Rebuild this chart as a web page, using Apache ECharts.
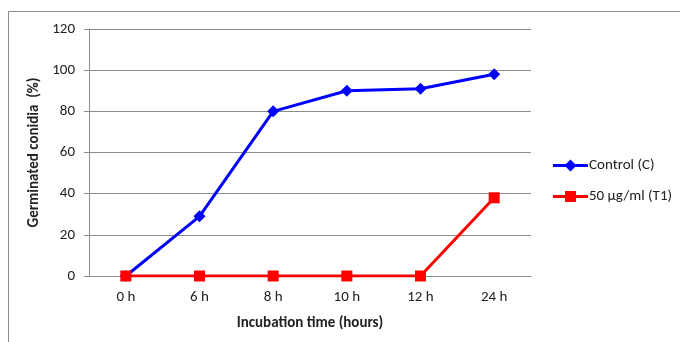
<!DOCTYPE html>
<html><head><meta charset="utf-8">
<script src="https://cdn.jsdelivr.net/npm/echarts@6/dist/echarts.min.js"></script>
<style>html,body{margin:0;padding:0;background:#fff}#c{width:680px;height:342px}</style>
</head><body><div id="c"></div>
<script>
var categories = ['0 h','6 h','8 h','10 h','12 h','24 h'];
var controlValues = [0, 29, 80, 90, 91, 98];
var t1Values = [0, 0, 0, 0, 0, 38];
var seriesNames = ['Control (C)', '50 µg/ml (T1)'];
var yTicks = [0, 20, 40, 60, 80, 100, 120];

var chart = echarts.init(document.getElementById('c'), null, {renderer:'canvas'});
var font = 'Carlito, Calibri, Lato, "Liberation Sans", sans-serif';
chart.setOption({
  animation: false,
  textStyle: {fontFamily: font},
  graphic: [{type:'rect', shape:{x:8.5,y:11.5,width:700,height:400}, style:{fill:'none', stroke:'#8c8c8c', lineWidth:1}, z:-1}],
  grid: {left: 89, top: 29, width: 442, height: 247},
  legend: {
    orient: 'vertical', left: 548, top: 153, itemGap: 16,
    itemWidth: 35, itemHeight: 12,
    textStyle: {fontSize: 15, color: '#222', fontFamily: font, padding:[0,0,0,-4]},
    data: [
      {name: seriesNames[0], icon: 'path://M0,4.6 L13,4.6 L17.5,0 L22,4.6 L35,4.6 L35,7.4 L22,7.4 L17.5,12 L13,7.4 L0,7.4 Z'},
      {name: seriesNames[1], icon: 'path://M0,4.6 L12,4.6 L12,0.5 L23,0.5 L23,4.6 L35,4.6 L35,7.4 L23,7.4 L23,11.5 L12,11.5 L12,7.4 L0,7.4 Z'}
    ]
  },
  xAxis: {
    type: 'category', data: categories, boundaryGap: true,
    name: 'Incubation time (hours)', nameLocation: 'middle', nameGap: 40,
    nameTextStyle: {fontWeight: 'bold', fontSize: 15, color: '#222'},
    axisLine: {lineStyle: {color: '#8c8c8c'}},
    axisTick: {show: false},
    axisLabel: {color: '#222', fontSize: 15, margin: 14},
    splitLine: {show: false}
  },
  yAxis: {
    type: 'value', min: 0, max: 120, interval: 20,
    name: 'Germinated conidia  (%)', nameLocation: 'middle', nameGap: 42,
    nameTextStyle: {fontWeight: 'bold', fontSize: 15, color: '#222'},
    axisLine: {show: true, lineStyle: {color: '#8c8c8c'}},
    axisTick: {show: true, inside: false, length: 5, lineStyle: {color: '#8c8c8c'}},
    axisLabel: {color: '#222', fontSize: 15, margin: 14},
    splitLine: {show: true, lineStyle: {color: '#8c8c8c', width: 1}}
  },
  series: [
    {name: seriesNames[0], type: 'line', data: controlValues, color: '#0000ff',
     lineStyle: {width: 3, color: '#0000ff'}, symbol: 'diamond', symbolSize: 12,
     itemStyle: {color: '#0000ff'}, z: 3},
    {name: seriesNames[1], type: 'line', data: t1Values, color: '#ff0000',
     lineStyle: {width: 3, color: '#ff0000'}, symbol: 'rect', symbolSize: 11,
     itemStyle: {color: '#ff0000'}, z: 4}
  ]
});
</script></body></html>
